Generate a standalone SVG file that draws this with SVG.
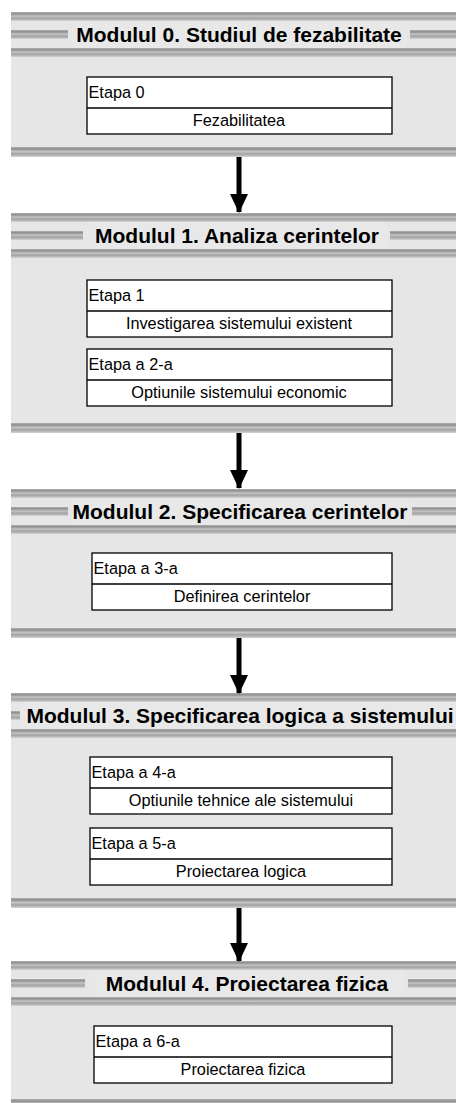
<svg xmlns="http://www.w3.org/2000/svg" width="456" height="1103" viewBox="0 0 456 1103">
<defs>
<linearGradient id="band" x1="0" y1="0" x2="0" y2="1">
<stop offset="0" stop-color="#b0b0b0"/>
<stop offset="0.2" stop-color="#8e8e8e"/>
<stop offset="0.45" stop-color="#c4c4c4"/>
<stop offset="0.7" stop-color="#a2a2a2"/>
<stop offset="1" stop-color="#d4d4d4"/>
</linearGradient>
<marker id="ah" viewBox="0 0 19 18" refX="18" refY="9" markerWidth="19" markerHeight="18" markerUnits="userSpaceOnUse" orient="auto">
<path d="M0,0 L19,9 L0,18 Z" fill="#000"/>
</marker>
</defs>
<style>
.bg{fill:#e6e6e6}
.band{fill:url(#band)}
.tbg{fill:#e8e8e8}
.title{font-family:"Liberation Sans",Arial,sans-serif;font-weight:bold;font-size:21px;fill:#000;text-anchor:middle}
.box{fill:#fff;stroke:#000;stroke-width:1.3}
.div{stroke:#000;stroke-width:1.3}
.lbl{font-family:"Liberation Sans",Arial,sans-serif;font-size:16.3px;fill:#000}
.ctr{text-anchor:middle}
.conn{stroke:#000;stroke-width:5;fill:none}
</style>

<g id="modul0">
<rect class="bg" x="11" y="12" width="445" height="145"/>
<rect class="band" x="11" y="12" width="445" height="9"/>
<rect class="band" x="11" y="30" width="57" height="9"/>
<rect class="band" x="410" y="30" width="46" height="9"/>
<rect class="band" x="11" y="48" width="445" height="9"/>
<rect class="tbg" x="72" y="21" width="335" height="27"/>
<text class="title" x="239" y="41.5">Modulul 0. Studiul de fezabilitate</text>
<rect class="box" x="87" y="77" width="305" height="57"/>
<line class="div" x1="87" y1="108" x2="392" y2="108"/>
<text class="lbl" x="88.5" y="97.5">Etapa 0</text>
<text class="lbl ctr" x="239" y="126">Fezabilitatea</text>
<rect class="band" x="11" y="147" width="445" height="10"/>
</g>

<g id="modul1">
<rect class="bg" x="11" y="213" width="445" height="220"/>
<rect class="band" x="11" y="213" width="445" height="9"/>
<rect class="band" x="11" y="231" width="72" height="9"/>
<rect class="band" x="390" y="231" width="66" height="9"/>
<rect class="band" x="11" y="249" width="445" height="9"/>
<rect class="tbg" x="87" y="222" width="300" height="27"/>
<text class="title" x="237" y="242.5">Modulul 1. Analiza cerintelor</text>
<rect class="box" x="87" y="280" width="305" height="57"/>
<line class="div" x1="87" y1="311" x2="392" y2="311"/>
<text class="lbl" x="88.5" y="300.5">Etapa 1</text>
<text class="lbl ctr" x="239" y="329">Investigarea sistemului existent</text>
<rect class="box" x="87" y="349" width="305" height="57"/>
<line class="div" x1="87" y1="380" x2="392" y2="380"/>
<text class="lbl" x="88.5" y="369.5">Etapa a 2-a</text>
<text class="lbl ctr" x="239" y="398">Optiunile sistemului economic</text>
<rect class="band" x="11" y="423" width="445" height="10"/>
</g>

<g id="modul2">
<rect class="bg" x="11" y="489" width="445" height="149"/>
<rect class="band" x="11" y="489" width="445" height="9"/>
<rect class="band" x="11" y="507" width="57" height="9"/>
<rect class="band" x="412" y="507" width="44" height="9"/>
<rect class="band" x="11" y="525" width="445" height="9"/>
<rect class="tbg" x="72" y="498" width="337" height="27"/>
<text class="title" x="240" y="518.5">Modulul 2. Specificarea cerintelor</text>
<rect class="box" x="92" y="553" width="300" height="57"/>
<line class="div" x1="92" y1="584" x2="392" y2="584"/>
<text class="lbl" x="93.5" y="573.5">Etapa a 3-a</text>
<text class="lbl ctr" x="242" y="602">Definirea cerintelor</text>
<rect class="band" x="11" y="628" width="445" height="10"/>
</g>

<g id="modul3">
<rect class="bg" x="11" y="693" width="445" height="215"/>
<rect class="band" x="11" y="693" width="445" height="9"/>
<rect class="band" x="11" y="711" width="9" height="9"/>
<rect class="band" x="11" y="729" width="445" height="9"/>
<rect class="tbg" x="21" y="702" width="435" height="27"/>
<text class="title" x="240" y="722.5">Modulul 3. Specificarea logica a sistemului</text>
<rect class="box" x="90" y="757" width="302" height="57"/>
<line class="div" x1="90" y1="788" x2="392" y2="788"/>
<text class="lbl" x="91.5" y="777.5">Etapa a 4-a</text>
<text class="lbl ctr" x="241" y="806">Optiunile tehnice ale sistemului</text>
<rect class="box" x="90" y="828" width="302" height="57"/>
<line class="div" x1="90" y1="859" x2="392" y2="859"/>
<text class="lbl" x="91.5" y="848.5">Etapa a 5-a</text>
<text class="lbl ctr" x="241" y="877">Proiectarea logica</text>
<rect class="band" x="11" y="898" width="445" height="10"/>
</g>

<g id="modul4">
<rect class="bg" x="11" y="961" width="445" height="142"/>
<rect class="band" x="11" y="961" width="445" height="9"/>
<rect class="band" x="11" y="979" width="74" height="9"/>
<rect class="band" x="408" y="979" width="48" height="9"/>
<rect class="band" x="11" y="997" width="445" height="9"/>
<rect class="tbg" x="89" y="970" width="316" height="27"/>
<text class="title" x="247" y="990.5">Modulul 4. Proiectarea fizica</text>
<rect class="box" x="94" y="1026" width="298" height="57"/>
<line class="div" x1="94" y1="1057" x2="392" y2="1057"/>
<text class="lbl" x="95.5" y="1046.5">Etapa a 6-a</text>
<text class="lbl ctr" x="243" y="1075">Proiectarea fizica</text>
<rect class="band" x="11" y="1099" width="445" height="10"/>
</g>

<g id="connectors">
<line class="conn" x1="239" y1="157" x2="239" y2="212" marker-end="url(#ah)"/>
<line class="conn" x1="239" y1="433" x2="239" y2="488" marker-end="url(#ah)"/>
<line class="conn" x1="239" y1="638" x2="239" y2="693" marker-end="url(#ah)"/>
<line class="conn" x1="239" y1="908" x2="239" y2="961" marker-end="url(#ah)"/>
</g>
</svg>
